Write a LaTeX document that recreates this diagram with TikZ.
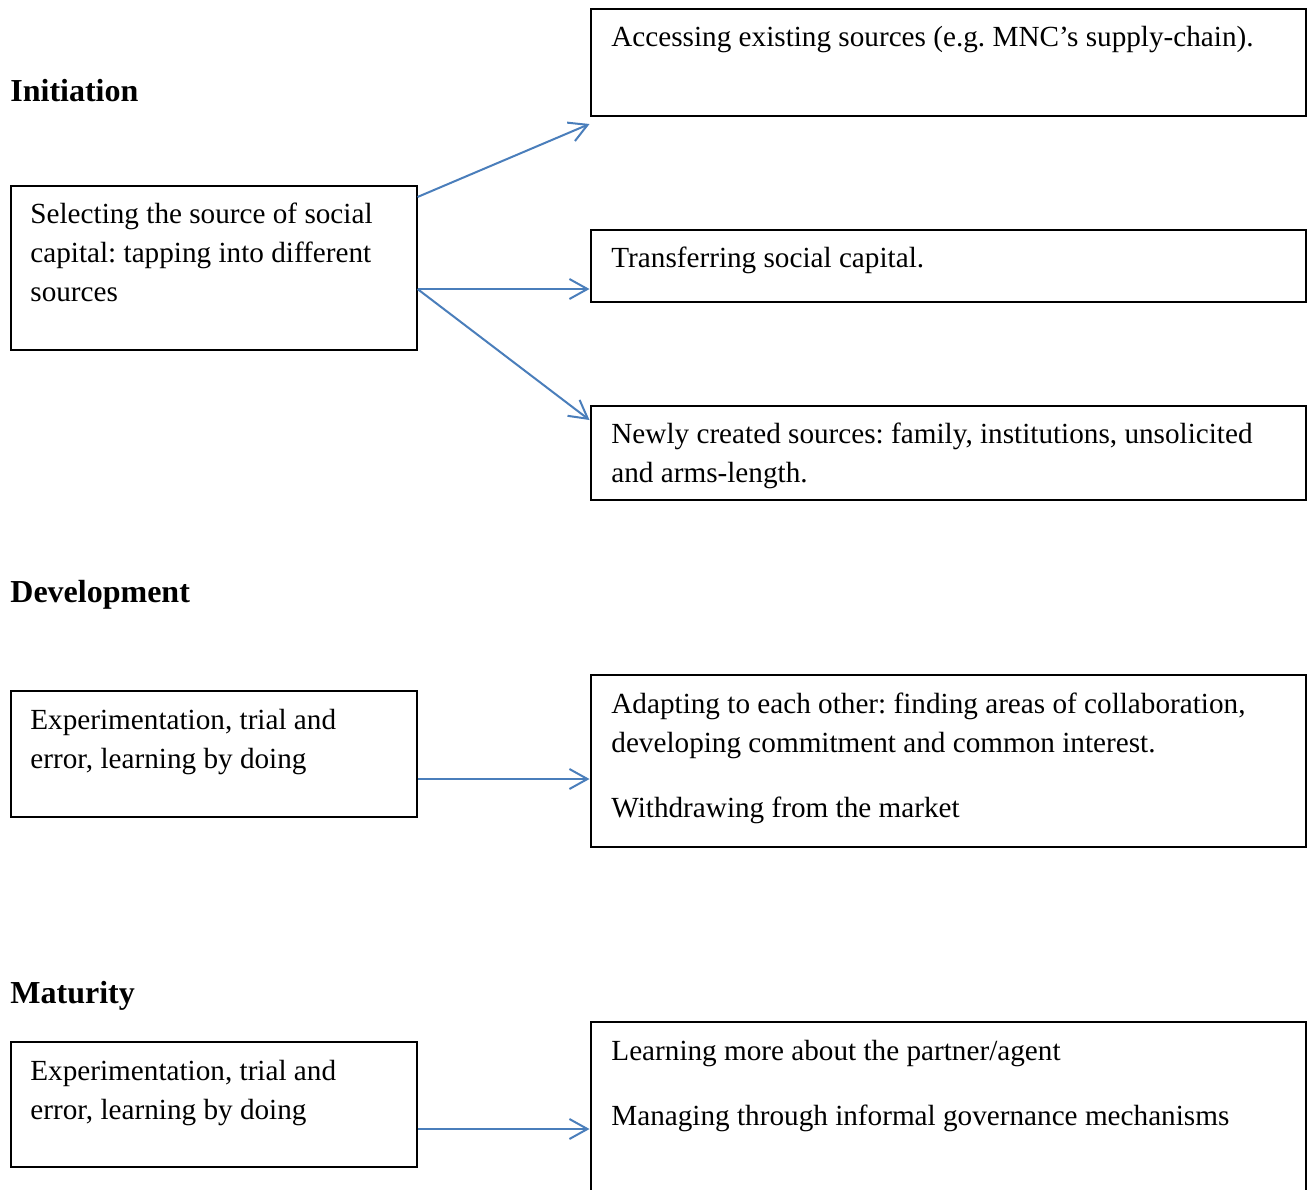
\documentclass[tikz,border=0pt]{standalone}
\usepackage{fontspec}
\setmainfont{Liberation Serif}
\usetikzlibrary{arrows.meta,calc}
\definecolor{arrblue}{RGB}{74,126,187}
\tikzset{
  box/.style={draw=black,line width=1pt,anchor=north west,inner sep=0pt},
  txt/.style={anchor=base west,inner sep=0pt,font=\fontsize{14.6}{19.5}\selectfont},
  head/.style={anchor=base west,inner sep=0pt,font=\fontsize{16}{19}\selectfont\bfseries},
  conn/.style={draw=arrblue,line width=1pt,-{Straight Barb[length=9pt,width=10pt,line width=1pt]}}
}
\newcommand{\boxtext}[1]{\parbox[t]{350pt}{\frenchspacing\raggedright #1}}
\begin{document}
\frenchspacing
\begin{tikzpicture}[x=0.5pt,y=-0.5pt]
\clip (0,0) rectangle (1311,1189);
\fill[white] (0,0) rectangle (1311,1189);
% headings
\node[head] (h1) at (10,101) {Initiation};
\node[head] (h2) at (10,602) {Development};
\node[head] (h3) at (10,1003) {Maturity};
% boxes
\node[box,minimum width=357.5pt,minimum height=53.5pt] (A) at (589.5,8) {};
\node[box,minimum width=203pt,minimum height=82pt] (L1) at (9.5,185) {};
\node[box,minimum width=357.5pt,minimum height=36pt] (B) at (589.5,229) {};
\node[box,minimum width=357.5pt,minimum height=47pt] (C) at (589.5,405) {};
\node[box,minimum width=203pt,minimum height=63pt] (L2) at (9.5,690) {};
\node[box,minimum width=357.5pt,minimum height=86pt] (D) at (589.5,674) {};
\node[box,minimum width=203pt,minimum height=62.5pt] (L3) at (9.5,1041) {};
\node[box,minimum width=357.5pt,minimum height=95pt] (E) at (589.5,1021) {};
% texts
\node[txt] (tA) at (611,46) {\boxtext{Accessing existing sources (e.g. MNC’s supply-chain).}};
\node[txt] (tL1) at (30,223) {\boxtext{Selecting the source of social\\capital: tapping into different\\sources}};
\node[txt] (tB) at (611,267) {\boxtext{Transferring social capital.}};
\node[txt] (tC) at (611,443) {\boxtext{Newly created sources: family, institutions, unsolicited\\and arms-length.}};
\node[txt] (tL2) at (30,729) {\boxtext{Experimentation, trial and\\error, learning by doing}};
\node[txt] (tD) at (611,713) {\boxtext{Adapting to each other: finding areas of collaboration,\\developing commitment and common interest.\\[13pt]Withdrawing from the market}};
\node[txt] (tL3) at (30,1080) {\boxtext{Experimentation, trial and\\error, learning by doing}};
\node[txt] (tE) at (611,1060) {\boxtext{Learning more about the partner/agent\\[13pt]Managing through informal governance mechanisms}};
% connectors
\draw[conn] ([yshift=-6pt]L1.north east) -- ([yshift=-3.5pt]A.south west);
\draw[conn] ([yshift=-52pt]L1.north east) -- ([yshift=-30pt]B.north west);
\draw[conn] ([yshift=-52pt]L1.north east) -- ([yshift=-7.5pt]C.north west);
\draw[conn] ([yshift=-44.5pt]L2.north east) -- ([yshift=-52.5pt]D.north west);
\draw[conn] ([yshift=-44pt]L3.north east) -- ([yshift=-54pt]E.north west);
\end{tikzpicture}
\end{document}
